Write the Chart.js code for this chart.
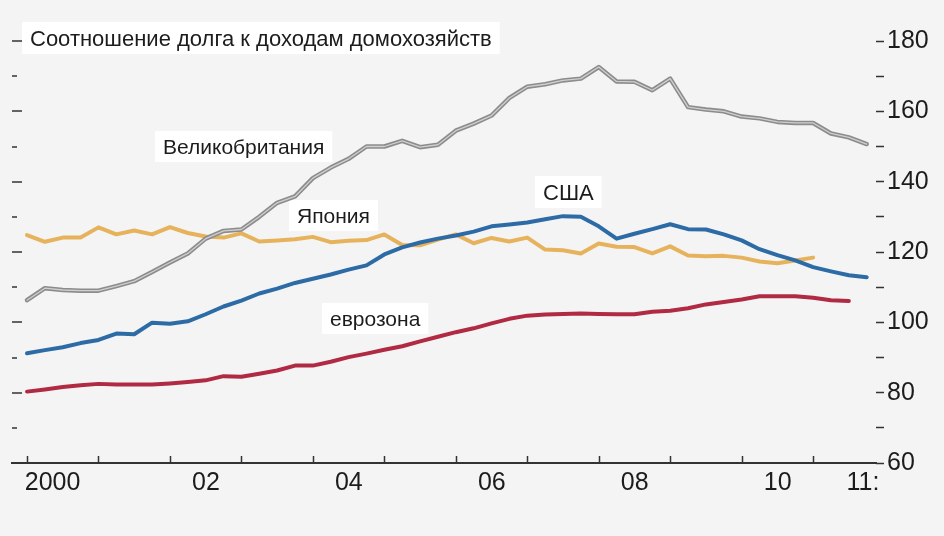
<!DOCTYPE html>
<html lang="ru">
<head>
  <meta charset="UTF-8">
  <title>Соотношение долга к доходам домохозяйств</title>
  <style>
    html, body {
      margin: 0;
      padding: 0;
      background: #f4f4f4;
    }
    #wrap {
      width: 944px;
      height: 536px;
    }
  </style>
</head>
<body>
<div id="wrap"><canvas id="debtChart" width="944" height="536"></canvas></div>

<script src="https://cdn.jsdelivr.net/npm/chart.js"></script>
<script>
  // years on the axis, data is quarterly
  const years = [2000, 2001, 2002, 2003, 2004, 2005, 2006, 2007, 2008, 2009, 2010, 2011];
  const quarters = years.flatMap(y => [y, y + 0.25, y + 0.5, y + 0.75]);
  const yearLabels = { 2000: '2000   ', 2002: '02', 2004: '04', 2006: '06', 2008: '08', 2010: '10', 2011: '    11:' };
  const yTicks = [60, 70, 80, 90, 100, 110, 120, 130, 140, 150, 160, 170, 180];

  // debt to income, %
  const uk = [106.3, 109.7, 109.2, 109, 109, 110.3, 111.7, 114.3, 117, 119.6,
    123.8, 126, 126.4, 130, 134, 135.8, 141, 144, 146.5, 150,
    150, 151.6, 149.8, 150.5, 154.5, 156.5, 158.8, 163.8, 167, 167.7,
    168.8, 169.3, 172.6, 168.5, 168.4, 166, 169.3, 161.2, 160.5, 160,
    158.5, 158, 157, 156.7, 156.7, 153.7, 152.6, 150.7];
  const japan = [124.8, 122.9, 124.1, 124.1, 127, 125, 126.1, 125, 127.1, 125.4,
    124.4, 124.1, 125.3, 123, 123.3, 123.6, 124.3, 122.8, 123.2, 123.4,
    125, 122, 121.9, 123.5, 125, 122.5, 124, 123, 124.1, 120.7,
    120.5, 119.6, 122.4, 121.5, 121.4, 119.6, 121.6, 119, 118.8, 118.9,
    118.4, 117.3, 116.8, 117.6, 118.4, null, null, null];
  const usa = [91.2, 92.1, 92.9, 94.1, 95, 96.8, 96.6, 99.9, 99.6, 100.3,
    102.3, 104.5, 106.2, 108.2, 109.6, 111.2, 112.4, 113.6, 115, 116.2,
    119.3, 121.3, 122.7, 123.8, 124.7, 125.8, 127.3, 127.8, 128.4, 129.3,
    130.2, 130, 127.3, 123.8, 125.2, 126.5, 127.9, 126.5, 126.4, 125,
    123.3, 120.8, 119.1, 117.6, 115.7, 114.5, 113.4, 112.8];
  const euro = [80.3, 80.9, 81.6, 82.1, 82.5, 82.3, 82.3, 82.3, 82.6, 83,
    83.5, 84.7, 84.5, 85.4, 86.3, 87.7, 87.7, 88.8, 90.1, 91.1,
    92.2, 93.2, 94.6, 95.9, 97.2, 98.3, 99.7, 101, 101.9, 102.2,
    102.4, 102.5, 102.4, 102.3, 102.3, 103, 103.3, 104, 105.1, 105.8,
    106.5, 107.4, 107.4, 107.4, 107, 106.3, 106.1, null];

  const FONT = '"Liberation Sans", Arial, sans-serif';
  const pts = arr => quarters.map((x, i) => ({ x: x, y: arr[i] }));

  // labels in the plot, white boxes behind
  const notes = [
    { text: 'Соотношение долга к доходам домохозяйств', x: 30, y: 46, size: 22 },
    { text: 'Великобритания', x: 163, y: 154, size: 21 },
    { text: 'Япония', x: 297, y: 223, size: 21 },
    { text: 'США', x: 543, y: 200, size: 22 },
    { text: 'еврозона', x: 330, y: 326, size: 21 }
  ];

  const decor = {
    id: 'decor',
    beforeDatasetsDraw(chart) {
      const ctx = chart.ctx;
      ctx.save();
      notes.forEach(n => {
        ctx.font = n.size + 'px ' + FONT;
        const w = ctx.measureText(n.text).width;
        ctx.fillStyle = '#ffffff';
        ctx.fillRect(n.x - 8, n.y - n.size - 2, w + 16, n.size + 10);
        ctx.fillStyle = '#1c1c1c';
        ctx.textBaseline = 'alphabetic';
        ctx.fillText(n.text, n.x, n.y);
      });
      ctx.restore();
    },
    afterDraw(chart) {
      const ctx = chart.ctx;
      const xs = chart.scales.x;
      const ys = chart.scales.y;
      const area = chart.chartArea;
      ctx.save();
      ctx.strokeStyle = '#333';
      ctx.lineWidth = 1.5;
      // small year marks going up from the axis
      xs.ticks.forEach(t => {
        const px = Math.round(xs.getPixelForValue(t.value)) + 0.5;
        ctx.beginPath();
        ctx.moveTo(px, area.bottom);
        ctx.lineTo(px, area.bottom - 7);
        ctx.stroke();
      });
      // dashes on the left edge
      ys.ticks.forEach(t => {
        const py = Math.round(ys.getPixelForValue(t.value));
        const len = t.value % 20 === 0 ? 10 : 5;
        ctx.beginPath();
        ctx.moveTo(area.left, py);
        ctx.lineTo(area.left + len, py);
        ctx.stroke();
      });
      ctx.restore();
    }
  };

  new Chart(document.getElementById('debtChart'), {
    type: 'line',
    data: {
      datasets: [
        { label: 'Великобритания', data: pts(uk), borderColor: '#cfcfcf', borderWidth: 1.3 },
        { label: 'Великобритания ', data: pts(uk), borderColor: '#8c8c8c', borderWidth: 4.5 },
        { label: 'США', data: pts(usa), borderColor: '#2d6ba6', borderWidth: 4 },
        { label: 'Япония', data: pts(japan), borderColor: '#e6b35c', borderWidth: 4 },
        { label: 'еврозона', data: pts(euro), borderColor: '#b12a43', borderWidth: 4 }
      ]
    },
    options: {
      responsive: false,
      animation: false,
      devicePixelRatio: 1,
      elements: {
        point: { radius: 0 },
        line: { tension: 0, borderJoinStyle: 'round', borderCapStyle: 'round' }
      },
      plugins: {
        legend: { display: false },
        tooltip: { enabled: false }
      },
      layout: { padding: { left: 12, top: 41, right: 0, bottom: 32 } },
      scales: {
        x: {
          type: 'linear',
          min: 1999.79,
          max: 2011.88,
          afterBuildTicks: s => { s.ticks = years.map(v => ({ value: v })); },
          afterFit: s => { s.paddingLeft = 0; s.paddingRight = 0; s.height = 41; },
          ticks: {
            autoSkip: false,
            maxRotation: 0,
            labelOffset: 36,
            padding: 5,
            color: '#1c1c1c',
            font: { size: 25, family: FONT },
            callback: v => yearLabels[v] || ''
          },
          grid: { drawOnChartArea: false, drawTicks: false },
          border: { display: true, color: '#333', width: 2 }
        },
        y: {
          position: 'right',
          min: 60,
          max: 180,
          afterBuildTicks: s => { s.ticks = yTicks.map(v => ({ value: v })); },
          afterFit: s => { s.width = 68; s.paddingTop = 0; s.paddingBottom = 0; },
          ticks: {
            padding: 3,
            color: '#1c1c1c',
            font: { size: 25, family: FONT },
            callback: v => (v % 20 === 0 ? v : '')
          },
          grid: { drawOnChartArea: false, drawTicks: true, tickLength: 8, tickColor: '#333', tickWidth: 1.5 },
          border: { display: false }
        }
      }
    },
    plugins: [decor]
  });
</script>
</body>
</html>
